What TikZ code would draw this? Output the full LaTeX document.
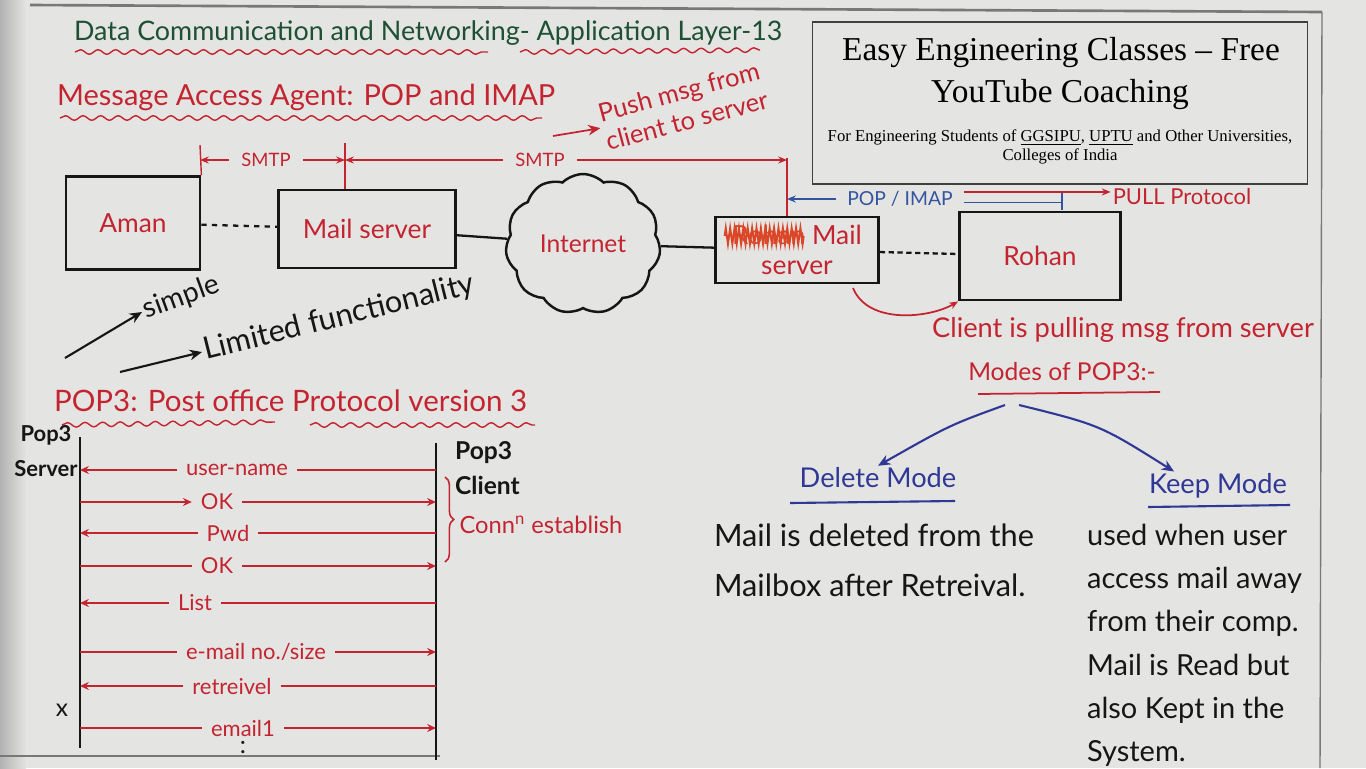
\documentclass[tikz,border=0pt]{standalone}
\usepackage{fontspec}
\setmainfont{Lato}
\newfontfamily\printfont{Liberation Serif}
\usetikzlibrary{positioning,shapes.symbols,decorations.pathmorphing,decorations.pathreplacing,arrows.meta}
\definecolor{board}{RGB}{228,228,226}
\definecolor{boardedge}{RGB}{120,120,120}
\definecolor{penred}{RGB}{196,36,48}
\definecolor{pengreen}{RGB}{30,80,52}
\definecolor{penblue}{RGB}{48,56,150}
\definecolor{popblue}{RGB}{52,84,160}
\definecolor{penblack}{RGB}{22,22,22}
\definecolor{scribred}{RGB}{220,70,40}
\tikzset{
  hand/.style={font=\fontsize{14}{17}\selectfont, inner sep=1pt},
  red hand/.style={hand, text=penred},
  black hand/.style={hand, text=penblack},
  blue hand/.style={hand, text=penblue},
  host box/.style={draw=penblack, line width=1.6pt, text=penred, font=\fontsize{15}{17}\selectfont},
  wavy line/.style={penred, line width=0.8pt, decorate, decoration={snake, amplitude=1.3pt, segment length=10pt}},
  pen arrow/.style={line width=1.2pt, -{Stealth[length=7pt,width=6pt]}},
  thin arrow/.style={line width=0.8pt, -{Stealth[length=5pt,width=4pt]}},
  msg label/.style={red hand, font=\fontsize{12.5}{15}\selectfont, inner xsep=5pt},
  msg line/.style={penred, line width=0.9pt},
  msg arrow/.style={msg line, -{Stealth[length=5pt,width=4.5pt]}},
  lifeline/.style={penblack, line width=1.4pt},
  smtp label/.style={red hand, font=\fontsize{10.5}{12}\selectfont, inner xsep=7pt},
}
\begin{document}
\begin{tikzpicture}[x=0.02cm,y=-0.02cm]
%the board
\fill[board] (0,0) rectangle (1366,768);
\useasboundingbox (0,0) rectangle (1366,768);
\fill[left color=black!30, right color=board] (0,0) rectangle (26,768);
\draw[boardedge, line width=1.5pt] (30,5) -- (1322,12);
\draw[boardedge, line width=0.8pt] (1322,12) -- (1320,768);
\draw[boardedge, line width=0.8pt] (0,756) -- (440,756);

%the headings
\node[hand, text=pengreen, font=\fontsize{15.3}{18}\selectfont, anchor=west] (title) at (72,33) {Data Communication and Networking- Application Layer-13};
\draw[wavy line] (75,52) -- (488,52);
\draw[wavy line] (520,52) -- (760,50);
\node[red hand, font=\fontsize{16.5}{19}\selectfont, anchor=west] (maa) at (55,97) {Message Access Agent: POP and IMAP};
\draw[wavy line] (60,118) -- (542,118);

%the banner
\node[draw=black!75, line width=1pt, minimum width=9.9cm, minimum height=3.24cm] (banner) at (1060,103) {};
\node[font=\printfont\fontsize{19}{22}\selectfont] (bannerA) at (1061,53) {Easy Engineering Classes – Free};
\node[font=\printfont\fontsize{19}{22}\selectfont] (bannerB) at (1060,95) {YouTube Coaching};
\node[font=\printfont\fontsize{9.5}{11}\selectfont, align=center] (bannerC) at (1060,147)
  {For Engineering Students of \underline{GGSIPU}, \underline{UPTU} and Other Universities,\\Colleges of India};

%the hosts
\node[host box, minimum width=2.68cm, minimum height=1.86cm] (aman) at (133,223) {Aman};
\node[host box, minimum width=3.54cm, minimum height=1.56cm] (mail1) at (367,229) {Mail server};
\node[cloud, draw=penblack, line width=1.4pt, cloud puffs=11, cloud puff arc=90, aspect=1.1,
  minimum width=3.1cm, minimum height=2.8cm, text=penred, font=\fontsize{14}{16}\selectfont] (net) at (583,244) {Internet};
\node[host box, minimum width=3.26cm, minimum height=1.32cm, align=center] (mail2) at (797,250)
  {{\color{scribred}Rohan} Mail\\server};
\node[host box, minimum width=3.22cm, minimum height=1.76cm] (rohan) at (1040,256) {Rohan};
\draw[scribred, line width=1.1pt, decorate, decoration={zigzag, amplitude=4.5pt, segment length=2.5pt}]
  ([xshift=6pt,yshift=8pt]mail2.west) -- ([xshift=51pt,yshift=8pt]mail2.west);

%drawings of vectors
\draw[penblack, line width=1.3pt, dashed] (aman) -- (mail1);
\draw[penblack, line width=1.3pt] (mail1) -- (net);
\draw[penblack, line width=1.3pt] (net) -- (mail2);
\draw[penblack, line width=1.3pt, densely dashed] (mail2) -- (rohan);

%smtp
\coordinate (tickA) at (200,145);
\coordinate (tickB) at (345,143);
\coordinate (tickC) at (787,158);
\draw[penred, line width=0.8pt] (tickA) -- (aman.north east);
\draw[penred, line width=0.8pt] (tickB) -- (tickB |- mail1.north);
\draw[penred, line width=0.8pt] (tickC) -- (tickC |- mail2.north);
\node[smtp label] (smtpA) at (266,160) {SMTP};
\draw[penred, thin arrow] (smtpA.west) -- (smtpA.west -| tickA);
\draw[penred, thin arrow] (smtpA.east) -- (smtpA.east -| tickB);
\node[smtp label] (smtpB) at (540,160) {SMTP};
\draw[penred, thin arrow] (smtpB.west) -- (smtpB.west -| tickB);
\draw[penred, thin arrow] (smtpB.east) -- (smtpB.east -| tickC);
\node[red hand, font=\fontsize{14.5}{17}\selectfont, rotate=15, align=left] (push) at (683,106) {Push msg from\\client to server};
\coordinate (pushtail) at (553,136);
\draw[penred, pen arrow, line width=1pt] (pushtail) -- (push.west);

%pop / imap
\node[hand, text=popblue, font=\fontsize{11}{13}\selectfont, inner xsep=6pt] (popimap) at (900,199) {POP / IMAP};
\coordinate (tickD) at (1062,193);
\draw[popblue, thin arrow] (popimap.west) -- (popimap.west -| tickC);
\draw[popblue, line width=0.8pt] ([yshift=-2pt]popimap.east) -- ([yshift=-2pt]popimap.east -| tickD);
\draw[popblue, line width=0.8pt] (tickD) -- ++(0,17);
\node[red hand, font=\fontsize{12.5}{15}\selectfont] (pull) at (1182,196) {PULL Protocol};
\draw[penred, thin arrow] ([yshift=4pt]popimap.east) -- ([yshift=4pt]popimap.east -| pull.west);
\coordinate (pullstart) at (853,288);
\draw[penred, thin arrow, line width=1pt] (pullstart) .. controls (868,325) and (930,318) .. (rohan.south west);
\node[red hand, font=\fontsize{15.5}{18}\selectfont] (pulling) at (1123,330) {Client is pulling msg from server};

%modes of pop3
\node[red hand] (modes) at (1062,372) {Modes of POP3:-};
\draw[penred, line width=1pt] (978,394) -- (1160,392);
\coordinate (fork) at (1005,405);
\node[blue hand, font=\fontsize{15.5}{18}\selectfont] (delete) at (878,478) {Delete Mode};
\node[blue hand, font=\fontsize{15.5}{18}\selectfont] (keep) at (1218,486) {Keep Mode};
\draw[penblue, pen arrow] (fork) .. controls (950,425) .. (delete.north);
\draw[penblue, pen arrow] ([xshift=8pt]fork) .. controls (1100,425) .. ([xshift=-25pt]keep.north);
\draw[penblue, line width=1.2pt] (790,503) -- (955,501);
\draw[penblue, line width=1.2pt] (1148,507) -- (1290,505);
\node[black hand, font=\fontsize{17.5}{28.5}\selectfont, anchor=north west, align=left] (deltext) at (712,522)
  {Mail is deleted from the\\Mailbox after Retreival.};
\node[black hand, font=\fontsize{16.5}{24.6}\selectfont, anchor=north west, align=left] (keeptext) at (1085,522)
  {used when user\\access mail away\\from their comp.\\Mail is Read but\\also Kept in the\\System.};

%simple / limited
\node[black hand, font=\fontsize{16}{18}\selectfont, rotate=20, anchor=west] (simple) at (142,312) {simple};
\coordinate (simpletail) at (65,358);
\draw[penblack, pen arrow] (simpletail) -- (simple.west);
\node[black hand, font=\fontsize{17.5}{20}\selectfont, rotate=14, anchor=west] (limited) at (202,352) {Limited functionality};
\coordinate (limitedtail) at (120,372);
\draw[penblack, pen arrow] (limitedtail) -- (limited.west);

%pop3 exchange
\node[red hand, font=\fontsize{16.8}{19}\selectfont, anchor=west] (pop3) at (52,401) {POP3: Post office Protocol version 3};
\draw[wavy line] (62,425) -- (275,422);
\draw[wavy line] (310,425) -- (535,425);
\node[black hand, font=\fontsize{12.5}{20}\selectfont\bfseries, align=center] (srvlabel) at (46,451) {Pop3\\Server};
\node[black hand, font=\fontsize{14}{20}\selectfont\bfseries, align=left, anchor=west] (clilabel) at (453,468) {Pop3\\Client};
\coordinate (srv) at (80,437);
\coordinate (cli) at (436,443);
\draw[lifeline] (srv) -- (80,748);
\draw[lifeline] (cli) -- (436,760);
\draw[penred, line width=0.9pt, decorate, decoration={brace, amplitude=5pt}] (445,477) -- (445,562);
\node[red hand, font=\fontsize{13.5}{15}\selectfont] (conn) at (541,525) {Conn\textsuperscript{n} establish};

\node[msg label] (m1) at (237,470) {user-name};
\draw[msg arrow] (m1.west) -- (m1.west -| srv);
\draw[msg line] (m1.east) -- (m1.east -| cli);
\node[msg label] (m2) at (217,502) {OK};
\draw[msg arrow] (m2.west -| srv) -- (m2.west);
\draw[msg arrow] (m2.east) -- (m2.east -| cli);
\node[msg label] (m3) at (228,533) {Pwd};
\draw[msg arrow] (m3.west) -- (m3.west -| srv);
\draw[msg line] (m3.east) -- (m3.east -| cli);
\node[msg label] (m4) at (217,566) {OK};
\draw[msg line] (m4.west -| srv) -- (m4.west);
\draw[msg arrow] (m4.east) -- (m4.east -| cli);
\node[msg label] (m5) at (195,603) {List};
\draw[msg arrow] (m5.west) -- (m5.west -| srv);
\draw[msg line] (m5.east) -- (m5.east -| cli);
\node[msg label] (m6) at (256,652) {e-mail no./size};
\draw[msg line] (m6.west -| srv) -- (m6.west);
\draw[msg arrow] (m6.east) -- (m6.east -| cli);
\node[msg label] (m7) at (232,686) {retreivel};
\draw[msg arrow] (m7.west) -- (m7.west -| srv);
\draw[msg line] (m7.east) -- (m7.east -| cli);
\node[msg label] (m8) at (243,728) {email1};
\draw[msg line] (m8.west -| srv) -- (m8.west);
\draw[msg arrow] (m8.east) -- (m8.east -| cli);
\node[black hand] (cross) at (62,710) {x};
\node[black hand] (more) at (243,748) {:};
\end{tikzpicture}
\end{document}
